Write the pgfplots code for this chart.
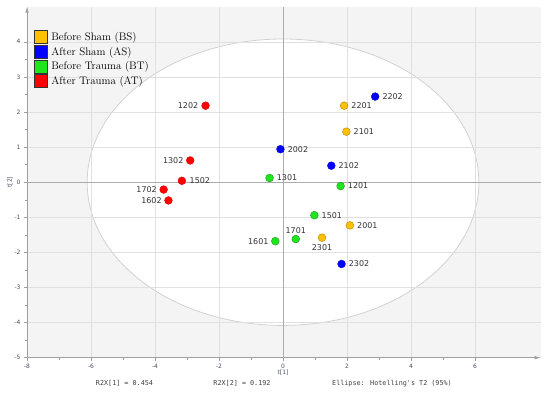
\documentclass[border=0pt]{standalone}
\usepackage{fontspec}
\usepackage{pgfplots}
\usepackage{pgfplotstable}
\pgfplotsset{compat=1.18}
\usetikzlibrary{arrows.meta}
\newfontfamily\dejavu{DejaVu Sans}
\newfontfamily\dejamono{DejaVu Sans Mono}
\definecolor{cBS}{RGB}{255,192,0}
\definecolor{cAS}{RGB}{0,0,255}
\definecolor{cBT}{RGB}{30,230,30}
\definecolor{cAT}{RGB}{255,0,0}
\definecolor{bgc}{RGB}{244,244,244}
\definecolor{gridc}{RGB}{224,224,224}
\definecolor{tickc}{RGB}{70,80,100}

% Before Sham (BS)
\pgfplotstableread{
x y lab dx dy
1.91 2.18 2201 17.5 0
1.98 1.44 2101 17.5 0
2.09 -1.23 2001 17.5 0
1.22 -1.58 2301 0 -9.5
}\tabBS
% After Sham (AS)
\pgfplotstableread{
x y lab dx dy
2.88 2.44 2202 17.5 0
-0.08 0.94 2002 17.5 0
1.51 0.47 2102 17.5 0
1.83 -2.33 2302 17.5 0
}\tabAS
% Before Trauma (BT)
\pgfplotstableread{
x y lab dx dy
-0.42 0.12 1301 17.5 0
1.80 -0.11 1201 17.5 0
0.98 -0.94 1501 17.5 0
0.40 -1.62 1701 0 8.5
-0.24 -1.68 1601 -17 0
}\tabBT
% After Trauma (AT)
\pgfplotstableread{
x y lab dx dy
-2.42 2.18 1202 -17.5 0
-2.90 0.62 1302 -17 0
-3.16 0.04 1502 18 0
-3.73 -0.21 1702 -17 0
-3.58 -0.52 1602 -17 0
}\tabAT

\pgfplotsset{
  sqlegend/.style={legend image code/.code={\draw[##1] (0bp,-6.5bp) rectangle (13bp,6.5bp);}},
  pts/.style={only marks, mark=*, mark size=3.9bp, forget plot,
    nodes near coords, point meta=explicit symbolic,
    visualization depends on={\thisrow{dx}\as\dx},
    visualization depends on={\thisrow{dy}\as\dy},
    nodes near coords style={anchor=center, xshift=\dx bp, yshift=\dy bp,
      font=\dejavu\fontsize{8}{9}\selectfont, text=black!80, inner sep=0pt}},
}

\begin{document}
\begin{tikzpicture}
\begin{axis}[
  set layers,
  scale only axis, width=513.6bp, height=351bp,
  xmin=-8, xmax=8.05, ymin=-5, ymax=5,
  enlargelimits=false,
  axis lines=left,
  axis line style={draw=gray!75, line width=0.6bp, -{Latex[length=6bp,width=3.5bp]}},
  xtick={-8,-6,...,6}, ytick={-5,-4,...,4},
  minor x tick num=1, minor y tick num=1,
  tick align=outside, major tick length=3bp, minor tick length=2bp,
  tick style={draw=gray!75, line width=0.5bp},
  xmajorgrids=true, ymajorgrids=true,
  major grid style={draw=gridc, line width=0.6bp},
  ticklabel style={font=\dejavu\fontsize{6}{7}\selectfont, text=tickc},
  /pgf/number format/assume math mode=true,
  xlabel={t[1]}, ylabel={t[2]},
  xlabel style={at={(axis cs:0,-5)}, anchor=center, yshift=-15.3bp,
    font=\dejavu\fontsize{6}{7}\selectfont, text=tickc},
  ylabel style={at={(axis cs:-8,0)}, anchor=center, yshift=17bp,
    font=\dejavu\fontsize{6}{7}\selectfont, text=tickc},
  legend style={draw=none, fill=none, inner sep=0pt,
    at={(axis description cs:0,1)}, anchor=north west,
    xshift=7bp, yshift=-23.5bp, row sep=1bp, column sep=3bp,
    font=\fontsize{11}{12}\selectfont, nodes={inner sep=0.5bp}},
  legend cell align=left,
]
\begin{pgfonlayer}{axis background}
\fill[bgc] (rel axis cs:0,0) rectangle (rel axis cs:1,1);
\fill[white, draw=gray!35, line width=0.8bp]
  (axis cs:0,0) ellipse [x radius=6.12, y radius=4.08];
\end{pgfonlayer}
\draw[gray!65, line width=0.7bp] (axis cs:0,-5) -- (axis cs:0,5);
\draw[gray!65, line width=0.7bp] (axis cs:-8,0) -- (axis cs:8.05,0);

\addlegendimage{sqlegend, fill=cBS, draw=gray!40!black, line width=0.6bp}
\addlegendentry{Before Sham (BS)}
\addlegendimage{sqlegend, fill=cAS, draw=gray!40!black, line width=0.6bp}
\addlegendentry{After Sham (AS)}
\addlegendimage{sqlegend, fill=cBT, draw=gray!40!black, line width=0.6bp}
\addlegendentry{Before Trauma (BT)}
\addlegendimage{sqlegend, fill=cAT, draw=gray!40!black, line width=0.6bp}
\addlegendentry{After Trauma (AT)}

\addplot[pts, mark options={fill=cBS, draw=cBS!70!black, line width=0.4bp}]
  table[x=x, y=y, meta=lab]{\tabBS};
\addplot[pts, mark options={fill=cAS, draw=cAS!80!black, line width=0.4bp}]
  table[x=x, y=y, meta=lab]{\tabAS};
\addplot[pts, mark options={fill=cBT, draw=cBT!65!black, line width=0.4bp}]
  table[x=x, y=y, meta=lab]{\tabBT};
\addplot[pts, mark options={fill=cAT, draw=cAT!85!black, line width=0.4bp}]
  table[x=x, y=y, meta=lab]{\tabAT};
\end{axis}
\begin{scope}[font=\dejamono\fontsize{6.8}{8}\selectfont, text=black!75]
\node at (97.5bp,-25.5bp) {R2X[1] = 0.454};
\node at (215bp,-25.5bp) {R2X[2] = 0.192};
\node at (365bp,-25.5bp) {Ellipse: Hotelling's T2 (95\%)};
\end{scope}
\path[use as bounding box] (-27bp,-37.3bp) rectangle (523bp,357.7bp);
\end{tikzpicture}
\end{document}
